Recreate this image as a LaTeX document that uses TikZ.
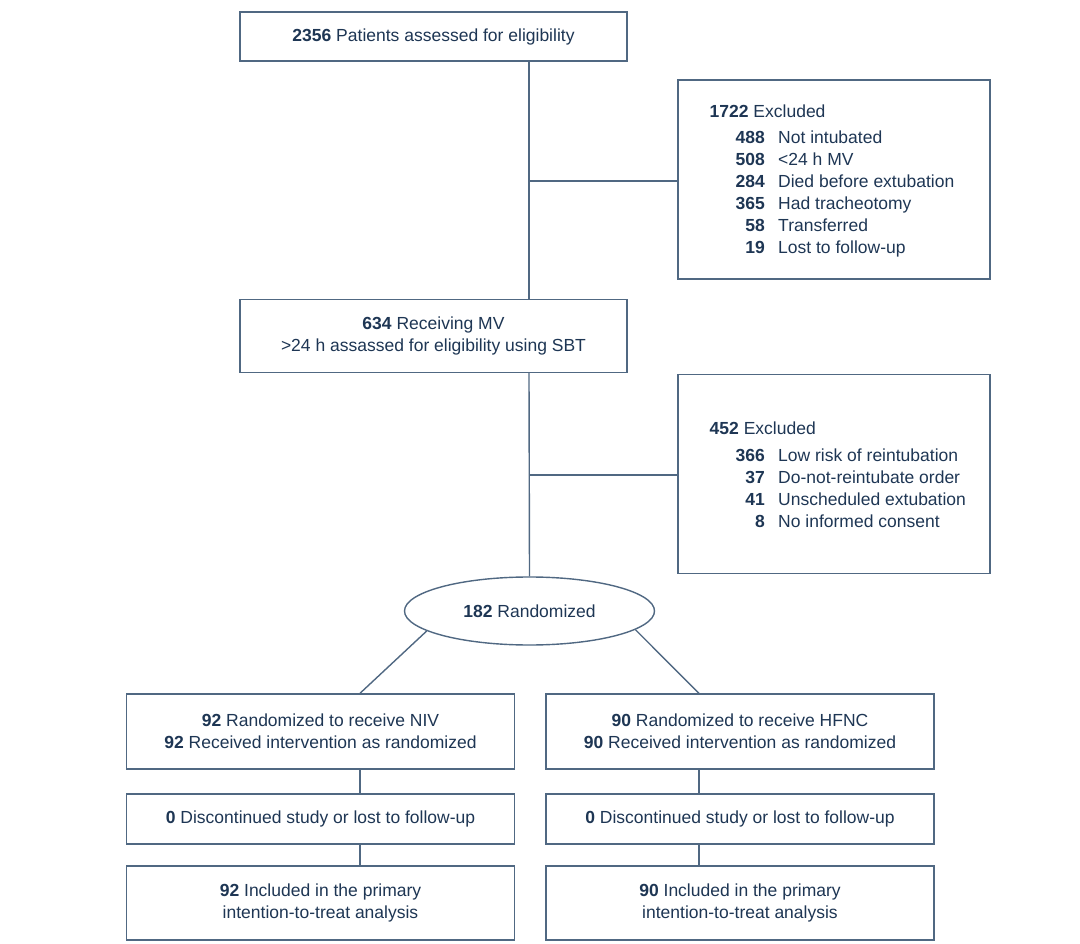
\documentclass[tikz,border=0pt]{standalone}
\usepackage{fontspec}
\setmainfont{Liberation Sans}
\usetikzlibrary{shapes.geometric}
\definecolor{txt}{RGB}{30,54,84}
\definecolor{ln}{RGB}{80,104,130}
\begin{document}
\begin{tikzpicture}[x=1pt,y=-1pt,
  every node/.style={text=txt,font=\fontsize{17.5}{22}\selectfont},
  box/.style={draw=ln,line width=1.4pt,inner sep=0pt,align=center,fill=white},
  wide/.style={box,minimum width=387pt},
  exbox/.style={draw=ln,line width=1.4pt,inner sep=0pt,minimum width=312pt,minimum height=199pt},
  conn/.style={draw=ln,line width=1.4pt},
  num/.style={anchor=base east,inner sep=0pt},
  lab/.style={anchor=base west,inner sep=0pt}]
\useasboundingbox (0,0) rectangle (1080,944);

\coordinate (cm) at (529,0);
\coordinate (cl) at (360,0);
\coordinate (cr) at (699,0);
\coordinate (b1) at (529,181);
\coordinate (b2) at (529,475);

% boxes
\node[wide,minimum height=49pt] (top) at (433.5,36.5) {\textbf{2356} Patients assessed for eligibility};
\node[exbox] (ex1) at (834,179.5) {};
\node[wide,minimum height=73pt] (mv) at (433.5,336) {\textbf{634} Receiving MV\\>24 h assassed for eligibility using SBT};
\node[exbox] (ex2) at (834,474) {};
\node[draw=ln,line width=1.4pt,ellipse,inner sep=0pt,minimum width=250pt,minimum height=68pt] (rand) at (529.5,611) {\textbf{182} Randomized};

\node[box,minimum width=388pt,minimum height=75pt] (niv) at (320.5,731.5) {\textbf{92} Randomized to receive NIV\\\textbf{92} Received intervention as randomized};
\node[box,minimum width=388pt,minimum height=75pt] (hfnc) at (740,731.5) {\textbf{90} Randomized to receive HFNC\\\textbf{90} Received intervention as randomized};
\node[box,minimum width=388pt,minimum height=50pt] (disl) at (320.5,819) {\textbf{0} Discontinued study or lost to follow-up};
\node[box,minimum width=388pt,minimum height=50pt] (disr) at (740,819) {\textbf{0} Discontinued study or lost to follow-up};
\node[box,minimum width=388pt,minimum height=74pt] (incl) at (320.5,903) {\textbf{92} Included in the primary\\intention-to-treat analysis};
\node[box,minimum width=388pt,minimum height=74pt] (incr) at (740,903) {\textbf{90} Included in the primary\\intention-to-treat analysis};

% excluded 1 text
\node[lab] (e1h) at (709.5,118) {\textbf{1722} Excluded};
\node[num] (e1n1) at (765,144) {\textbf{488}}; \node[lab] (e1l1) at (778,144) {Not intubated};
\node[num] (e1n2) at (765,166) {\textbf{508}}; \node[lab] (e1l2) at (778,166) {<24 h MV};
\node[num] (e1n3) at (765,188) {\textbf{284}}; \node[lab] (e1l3) at (778,188) {Died before extubation};
\node[num] (e1n4) at (765,210) {\textbf{365}}; \node[lab] (e1l4) at (778,210) {Had tracheotomy};
\node[num] (e1n5) at (765,232) {\textbf{58}}; \node[lab] (e1l5) at (778,232) {Transferred};
\node[num] (e1n6) at (765,254) {\textbf{19}}; \node[lab] (e1l6) at (778,254) {Lost to follow-up};

% excluded 2 text
\node[lab] (e2h) at (709.5,434) {\textbf{452} Excluded};
\node[num] (e2n1) at (765,461) {\textbf{366}}; \node[lab] (e2l1) at (778,461) {Low risk of reintubation};
\node[num] (e2n2) at (765,483) {\textbf{37}}; \node[lab] (e2l2) at (778,483) {Do-not-reintubate order};
\node[num] (e2n3) at (765,505) {\textbf{41}}; \node[lab] (e2l3) at (778,505) {Unscheduled extubation};
\node[num] (e2n4) at (765,527) {\textbf{8}}; \node[lab] (e2l4) at (778,527) {No informed consent};

% connectors
\draw[conn] (top.south -| cm) -- (mv.north -| cm);
\draw[conn] (b1) -- (b1 -| ex1.west);
\draw[conn] (mv.south -| cm) -- (rand.north);
\draw[conn] (b2) -- (b2 -| ex2.west);
\draw[conn] (rand.191) -- (niv.north -| cl);
\draw[conn] (rand.350) -- (hfnc.north -| cr);
\draw[conn] (niv.south -| cl) -- (disl.north -| cl);
\draw[conn] (disl.south -| cl) -- (incl.north -| cl);
\draw[conn] (hfnc.south -| cr) -- (disr.north -| cr);
\draw[conn] (disr.south -| cr) -- (incr.north -| cr);
\end{tikzpicture}
\end{document}
